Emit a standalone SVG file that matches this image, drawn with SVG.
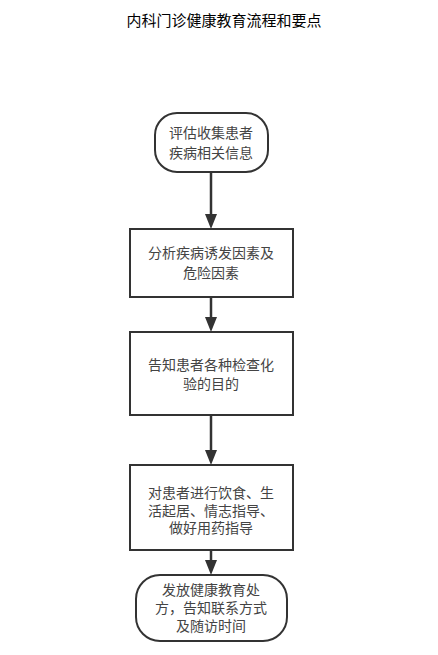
<svg xmlns="http://www.w3.org/2000/svg" width="438" height="655" viewBox="0 0 438 655">
<defs>
<style>
.box{fill:#fff;stroke:#333;stroke-width:2}
.t{font-family:"Liberation Sans","Noto Sans CJK SC",sans-serif;font-size:14px;fill:#444;text-anchor:middle}
.title{font-family:"Liberation Sans","Noto Sans CJK SC",sans-serif;font-size:15px;fill:#000;text-anchor:middle}
.c{stroke:#333;stroke-width:2.5;fill:none}
</style>
<marker id="ah" markerWidth="12" markerHeight="14" refX="6" refY="14" orient="auto-start-reverse" markerUnits="userSpaceOnUse" viewBox="0 0 12 14">
<path d="M0,0 L12,0 L6,14 Z" fill="#333"/>
</marker>
</defs>
<rect width="438" height="655" fill="#fff"/>
<text class="title" x="224" y="26">内科门诊健康教育流程和要点</text>
<g id="connectors">
<line class="c" x1="211" y1="172" x2="211" y2="215"/><path d="M205,214 L217,214 L211,229 Z" fill="#333"/>
<line class="c" x1="211" y1="297" x2="211" y2="318"/><path d="M205,317 L217,317 L211,332 Z" fill="#333"/>
<line class="c" x1="211" y1="415" x2="211" y2="451"/><path d="M205,450 L217,450 L211,465 Z" fill="#333"/>
<line class="c" x1="211" y1="550" x2="211" y2="561"/><path d="M205,560 L217,560 L211,575 Z" fill="#333"/>
</g>
<g id="n1">
<rect class="box" x="155" y="113" width="113" height="59" rx="22"/>
<text class="t" x="211" y="138">评估收集患者</text>
<text class="t" x="211" y="158">疾病相关信息</text>
</g>
<g id="n2">
<rect class="box" x="130" y="229" width="163" height="68"/>
<text class="t" x="211" y="258">分析疾病诱发因素及</text>
<text class="t" x="211" y="278">危险因素</text>
</g>
<g id="n3">
<rect class="box" x="130" y="332" width="163" height="83"/>
<text class="t" x="211" y="370">告知患者各种检查化</text>
<text class="t" x="211" y="389">验的目的</text>
</g>
<g id="n4">
<rect class="box" x="130" y="465" width="163" height="85"/>
<text class="t" x="211" y="498">对患者进行饮食、生</text>
<text class="t" x="211" y="516">活起居、情志指导、</text>
<text class="t" x="211" y="533">做好用药指导</text>
</g>
<g id="n5">
<rect class="box" x="136" y="575" width="151" height="66" rx="24"/>
<text class="t" x="211" y="595">发放健康教育处</text>
<text class="t" x="211" y="613">方，告知联系方式</text>
<text class="t" x="211" y="631">及随访时间</text>
</g>
</svg>
